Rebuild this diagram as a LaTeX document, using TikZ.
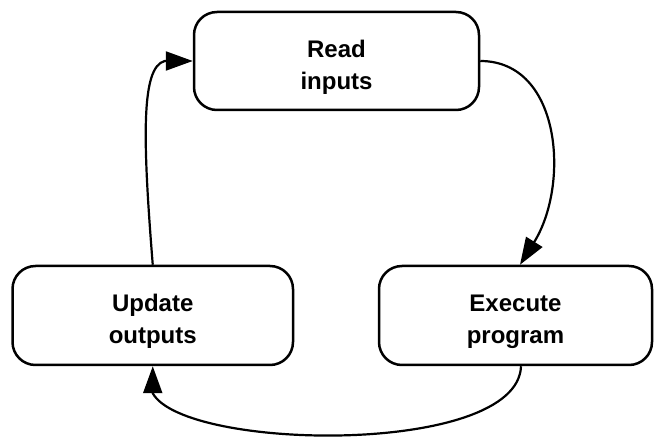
\documentclass[tikz,border=0pt]{standalone}
\usepackage{fontspec}
\setmainfont{Liberation Sans}
\usetikzlibrary{arrows.meta}
\begin{document}
\begin{tikzpicture}[x=1pt,y=-1pt,
  stepbox/.style={draw=black, line width=2.5pt, rounded corners=23pt, fill=white,
    align=center, font=\fontsize{24}{32}\selectfont\bfseries, inner sep=0pt},
  link/.style={line width=2.2pt, -{Triangle[length=27pt,width=19pt]}}]
\useasboundingbox (0,0) rectangle (654,438);
\node[stepbox, minimum width=285pt, minimum height=98pt] (read) at (336.5,61)
  {\rule{0pt}{29pt}Read\\inputs};
\node[stepbox, minimum width=280.5pt, minimum height=99pt] (update) at (152.75,315.5)
  {\rule{0pt}{29pt}Update\\outputs};
\node[stepbox, minimum width=273pt, minimum height=99pt] (exec) at (515.5,315.5)
  {\rule{0pt}{29pt}Execute\\program};
\draw[link] (read.east) .. controls +(81,0) and +(50,-80) .. ([xshift=4.5pt]exec.north);
\draw[link] ([xshift=5.5pt]exec.south) .. controls +(-3,90) and +(32,58) .. ([yshift=-27pt]update.south) -- (update.south);
\draw[link] (update.north) .. controls +(-10,-125) and +(-24,6) .. ([xshift=-28pt]read.west) -- (read.west);
\end{tikzpicture}
\end{document}
